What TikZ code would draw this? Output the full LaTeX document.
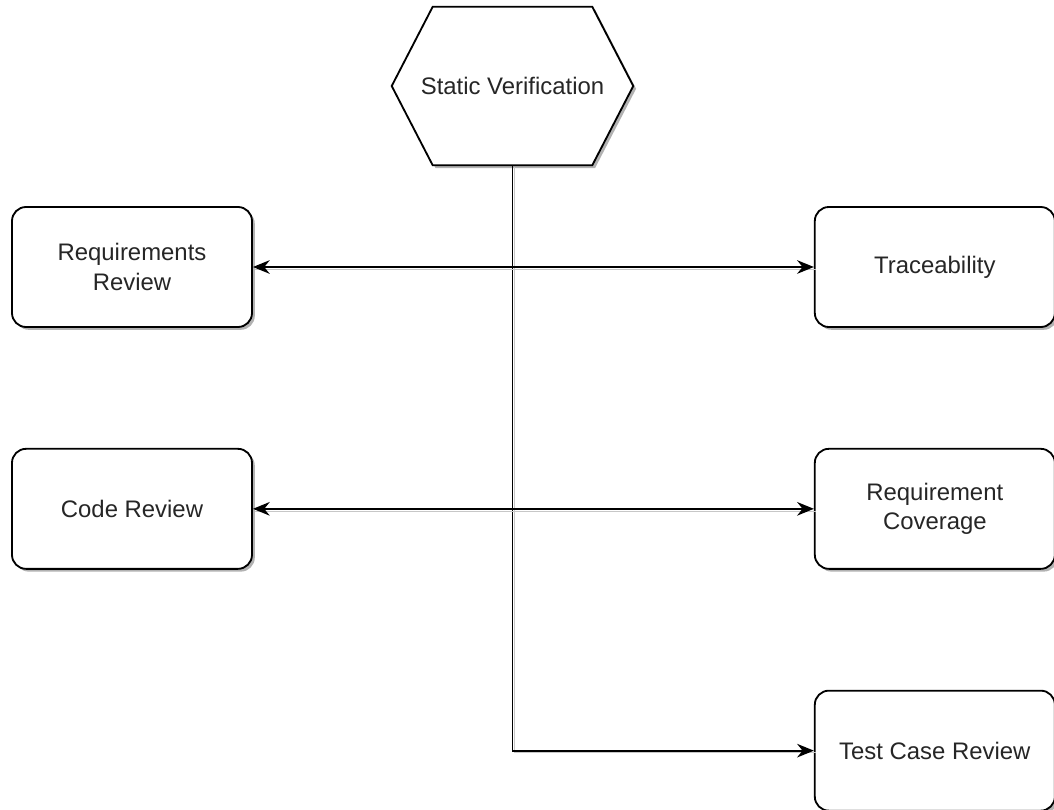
\documentclass[tikz,border=0pt]{standalone}
\usepackage{fontspec}
\setmainfont{Liberation Sans}
\usetikzlibrary{positioning,arrows.meta,shadows,backgrounds}

\begin{document}
\begin{tikzpicture}[
        every node/.style={font=\fontsize{17}{21.3}\selectfont, text=black!85},
        shade/.style={drop shadow={shadow xshift=0.07cm, shadow yshift=-0.07cm, fill=black!30, opacity=1}},
        block/.style={rectangle, rounded corners=0.35cm, draw, line width=1.3pt, fill=white, minimum width=6cm, minimum height=3cm, align=center, shade},
        hexbox/.style={rectangle, minimum width=6.025cm, minimum height=3.95cm},
        hexline/.style={draw, line width=1.3pt, fill=white, shade},
        line/.style={-{Stealth[length=0.42cm, width=0.34cm]}, line width=1.3pt,
            preaction={draw=black!22, -, transform canvas={xshift=1.5pt, yshift=-1.5pt}}},
        dline/.style={line, {Stealth[length=0.42cm, width=0.34cm]}-{Stealth[length=0.42cm, width=0.34cm]}}
    ]

        \useasboundingbox (-12.8125,2.15) rectangle (13.5375,-18.075);

        % Verification root
        \node[hexbox] (static) at (0,0) {Static Verification};
        \begin{pgfonlayer}{background}
            \draw[hexline] (static.west) -- ([xshift=1.025cm]static.north west) -- ([xshift=-1.025cm]static.north east)
                -- (static.east) -- ([xshift=-1.025cm]static.south east) -- ([xshift=1.025cm]static.south west) -- cycle;
        \end{pgfonlayer}

        % Left column
        \node[block] (reqreview) at (-9.5125,-4.525) {Requirements\\Review};
        \node[block, below=3cm of reqreview] (codereview) {Code Review};

        % Right column
        \node[block, right=14.025cm of reqreview] (traceability) {Traceability};
        \node[block, below=3cm of traceability] (coverage) {Requirement\\Coverage};
        \node[block, below=3cm of coverage] (testcase) {Test Case Review};

        % Trunk down to the test case review
        \draw[line] (static.south) |- (testcase.west);

        % Cross links
        \draw[dline] (reqreview.east) -- (traceability.west);
        \draw[dline] (codereview.east) -- (coverage.west);

    \end{tikzpicture}
\end{document}
